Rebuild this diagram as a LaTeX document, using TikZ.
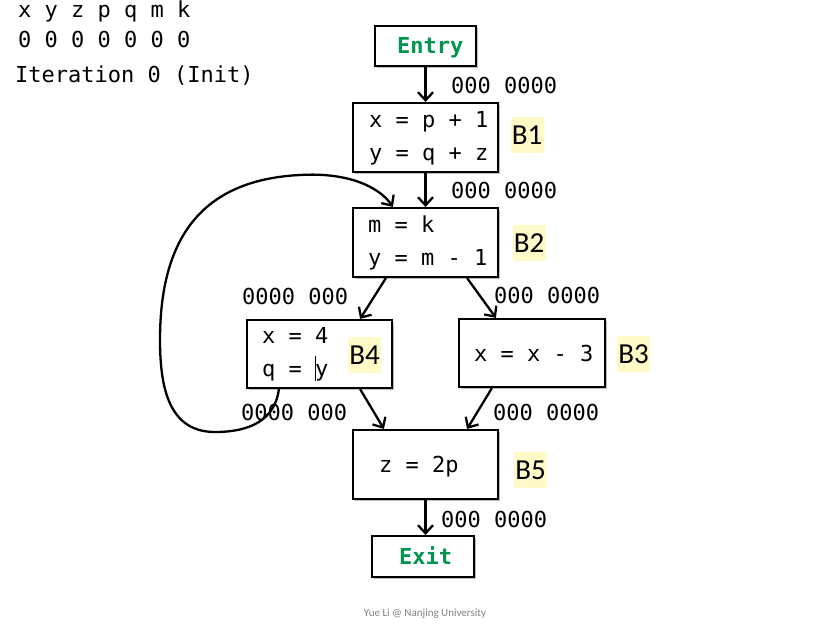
\documentclass[tikz,border=0pt]{standalone}
\usepackage{fontspec}
\setmainfont{Carlito}
\newfontfamily\codefont{DejaVu Sans Mono}
\newfontfamily\labfont{Carlito}
\usetikzlibrary{arrows.meta,shadows,calc}
\definecolor{entrygreen}{RGB}{0,150,80}
\definecolor{hl}{RGB}{255,250,200}
\definecolor{foot}{RGB}{128,128,128}
\tikzset{
  blk/.style={draw, line width=2.2pt, fill=white, inner sep=0pt,
    drop shadow={shadow xshift=2pt, shadow yshift=-2pt, opacity=0.25, fill=black}},
  code/.style={font=\codefont\fontsize{22}{26}\selectfont, inner sep=0pt, anchor=base west},
  codeg/.style={font=\codefont\bfseries\fontsize{22}{26}\selectfont, text=entrygreen, inner sep=0pt, anchor=base west},
  blab/.style={font=\labfont\fontsize{29}{30}\selectfont, fill=hl, inner sep=0pt, minimum width=33pt, minimum height=36pt},
  arr/.style={line width=2.3pt, -{Straight Barb[length=8pt,width=15pt,line width=2.3pt]}},
}
\begin{document}
\begin{tikzpicture}[x=1pt,y=-1pt]
\useasboundingbox (0,0) rectangle (835,634);
% header
\node[code] (h1) at (18,18) {x y z p q m k};
\node[code] (h2) at (18,48) {0 0 0 0 0 0 0};
\node[code] (h3) at (15,82) {Iteration 0 (Init)};
% blocks
\node[blk, minimum width=101pt, minimum height=40pt] (entry) at (425.5,46) {};
\node[blk, minimum width=145pt, minimum height=69pt] (b1) at (425.5,137.5) {};
\node[blk, minimum width=145pt, minimum height=69pt] (b2) at (425.5,242.5) {};
\node[blk, minimum width=145pt, minimum height=68pt] (b4) at (319.5,354) {};
\node[blk, minimum width=146pt, minimum height=68pt] (b3) at (532,353) {};
\node[blk, minimum width=145pt, minimum height=69pt] (b5) at (425.5,464.5) {};
\node[blk, minimum width=102pt, minimum height=41pt] (exit) at (423,556.5) {};
% texts
\node[codeg] (tentry) at (397,53) {Entry};
\node[code] (t11) at (369,127) {x = p + 1};
\node[code] (t12) at (369,160) {y = q + z};
\node[code] (t21) at (368,232) {m = k};
\node[code] (t22) at (368,265) {y = m - 1};
\node[code] (t41) at (262,343) {x = 4};
\node[code] (t42) at (262,376) {q = y};
\draw[line width=0.7pt] (315.5,356) -- (315.5,381);
\node[code] (t3) at (474,361) {x = x - 3};
\node[code] (t5) at (379,472) {z = 2p};
\node[codeg] (texit) at (399,564) {Exit};
% block labels
\node[blab] (lb1) at (527,135) {B1};
\node[blab] (lb2) at (529,243) {B2};
\node[blab] (lb4) at (364.5,355) {B4};
\node[blab] (lb3) at (633.5,354) {B3};
\node[blab] (lb5) at (530.5,470) {B5};
% edge labels
\node[code] (e1) at (451,93) {000 0000};
\node[code] (e2) at (451,198) {000 0000};
\node[code] (e3) at (242,304) {0000 000};
\node[code] (e4) at (494,303) {000 0000};
\node[code] (e5) at (241,420) {0000 000};
\node[code] (e6) at (493,420) {000 0000};
\node[code] (e7) at (441,527) {000 0000};
% arrows
\draw[arr] (entry.south) -- (b1.north);
\draw[arr] (b1.south) -- (b2.north);
\draw[arr] ($(b2.south west)+(34,0)$) -- ($(b4.north east)+(-33,0)$);
\draw[arr] ($(b2.south east)+(-32,0)$) -- ($(b3.north west)+(38,0)$);
\draw[arr] ($(b4.south east)+(-33,0)$) -- ($(b5.north west)+(32,0)$);
\draw[arr] ($(b3.south west)+(34,0)$) -- ($(b5.north east)+(-32,0)$);
\draw[arr] (b5.south) -- (exit.north -| b5.south);
% back edge B4 -> B2
\coordinate (bs) at ($(b4.south west)+(33,0)$);
\coordinate (bt) at ($(b2.north west)+(41,0)$);
\draw[arr] (bs) .. controls (275,420) and (250,432) .. (215,432)
  .. controls (170,432) and (160,390) .. (160,340)
  .. controls (160,240) and (200,180) .. (300,175)
  .. controls (350,172) and (380,188) .. (bt);
% footer
\node[font=\labfont\fontsize{11}{12}\selectfont, text=foot, inner sep=0pt, anchor=base] (foot) at (425,616) {Yue Li @ Nanjing University};
\end{tikzpicture}
\end{document}
